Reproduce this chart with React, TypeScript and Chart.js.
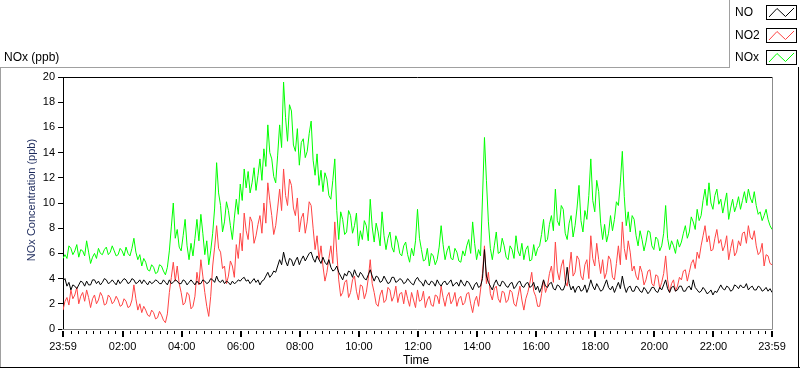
import React, { useEffect, useRef } from "react";
import { Chart, registerables } from "chart.js";

Chart.register(...registerables);

// Sampling interval of the series (minutes from the 23:59 start of the record)
const STEP_MIN = 4;

const NO = [
  3.8, 4.0, 3.4, 3.7, 3.1, 3.5, 3.4, 3.2, 3.5, 3.8, 3.7, 3.4, 3.8, 3.5, 3.5, 3.9, 3.9, 3.6, 3.8, 3.5,
  3.7, 4.0, 3.9, 3.6, 3.7, 3.9, 3.7, 3.5, 3.9, 3.6, 3.8, 4.0, 3.9, 3.6, 3.7, 4.0, 3.9, 3.6, 3.7, 3.9,
  3.6, 3.9, 3.7, 3.5, 3.8, 3.6, 3.7, 3.9, 3.8, 3.6, 3.6, 3.9, 3.7, 3.5, 3.9, 3.6, 3.7, 3.9, 3.8, 3.6,
  3.6, 3.9, 3.8, 3.5, 3.7, 3.9, 3.7, 3.5, 3.8, 3.6, 3.6, 3.9, 3.8, 3.6, 3.7, 4.0, 3.9, 3.7, 4.2, 3.8,
  3.7, 3.9, 3.6, 3.8, 3.7, 3.5, 3.8, 3.6, 3.7, 3.9, 3.8, 4.0,
  4.1, 3.8, 3.9, 3.6, 3.8, 4.0, 3.7, 3.9, 3.5, 3.8, 3.9, 4.2, 4.5, 4.1, 4.3, 4.6, 4.5, 5.0, 5.5, 5.1,
  6.1, 5.4, 5.0, 5.6, 5.5, 5.0, 5.4, 5.7, 5.1, 5.5, 5.8, 5.4, 5.7, 6.0, 6.1, 5.6, 5.3, 5.8, 5.5, 5.2,
  5.7, 5.3, 5.1, 5.5, 4.9, 4.6, 4.7, 5.0, 4.5, 4.2, 3.9, 4.4, 4.2, 4.6, 4.5, 4.1, 4.7, 4.3, 4.1, 4.5,
  4.3, 4.0, 3.9, 4.3, 4.7, 4.2, 3.8, 4.2, 4.1, 3.7, 3.8, 4.2, 3.9, 3.6, 3.7, 4.1, 4.1, 3.7, 3.8, 4.0,
  3.9, 3.6, 3.7, 4.0, 3.8, 3.6, 3.5, 3.9, 4.1, 3.8,
  3.7, 3.4, 3.9, 3.6, 3.5, 3.8, 3.7, 3.4, 3.9, 3.6, 3.4, 3.7, 3.8, 3.5, 3.7, 3.9, 3.4, 3.6, 3.7, 3.4,
  3.9, 3.6, 3.4, 3.8, 3.7, 3.4, 3.1, 3.5, 3.7, 3.3, 3.4, 4.0, 6.3, 4.2, 3.7, 3.4, 3.1, 3.6, 3.9, 3.5,
  3.4, 3.8, 3.7, 3.4, 3.3, 3.6, 3.7, 3.2, 3.4, 3.7, 3.8, 3.4, 3.3, 3.6, 3.7, 3.3, 3.4, 3.7, 3.1, 3.4,
  2.9, 3.3, 3.9, 3.4, 3.3, 3.6, 3.7, 3.2, 3.1, 3.5, 3.4, 3.1, 3.1, 3.5, 4.9, 3.6, 3.1, 3.4, 2.9, 3.3,
  3.4, 3.0, 3.1, 3.5, 2.9, 3.3, 3.9, 3.4, 3.1, 3.6, 3.3, 3.0,
  3.1, 3.5, 3.9, 3.3, 3.1, 3.4, 2.9, 3.3, 3.7, 3.2, 4.2, 3.4, 2.9, 3.3, 3.4, 3.0, 3.0, 3.4, 3.3, 3.0,
  2.9, 3.3, 3.1, 2.8, 3.0, 3.3, 3.3, 3.0, 2.9, 3.3, 3.1, 3.5, 3.9, 3.2, 2.9, 3.3, 3.4, 3.0, 3.1, 3.4,
  3.4, 3.0, 3.0, 3.3, 3.4, 3.1, 3.9, 3.3, 3.1, 2.9, 3.0, 3.3, 3.1, 2.8, 2.9, 3.1, 2.7, 3.0, 2.9, 3.2,
  3.5, 3.2, 3.1, 3.4, 3.3, 3.0, 3.1, 3.5, 3.4, 3.2, 3.5, 3.3, 3.3, 3.6, 3.1, 3.3, 3.4, 3.1, 3.1, 3.4,
  3.3, 3.0, 3.1, 3.3, 3.0, 3.2, 2.9,
];

const NO2 = [
  1.5, 2.2, 2.5, 1.9, 3.1, 2.4, 2.7, 3.3, 2.0, 2.6, 2.9, 2.2, 3.1, 2.5, 1.7, 2.4, 2.7, 2.0, 2.3, 2.9,
  2.6, 1.9, 2.0, 2.7, 2.5, 2.0, 2.2, 2.6, 2.3, 1.8, 1.9, 2.4, 2.2, 1.7, 1.8, 2.3, 3.5, 2.4, 1.5, 2.0,
  1.3, 1.8, 1.5, 1.1, 1.0, 1.5, 1.3, 0.8, 0.9, 1.4, 1.1, 0.7, 0.5, 1.2, 2.9, 4.1, 5.3, 3.8, 5.0, 3.6,
  2.9, 1.9, 2.1, 2.9, 2.7, 1.6, 1.8, 2.6, 4.5, 3.5, 5.5, 4.2, 2.9, 1.8, 1.0, 2.6, 5.0, 6.5, 8.2, 6.4,
  6.1, 4.8, 5.0, 3.6, 4.2, 5.4, 5.0, 4.1, 6.7, 5.6, 7.6, 6.2,
  9.2, 7.8, 7.1, 8.9, 8.5, 6.8, 7.4, 8.3, 9.0, 7.6, 10.0, 8.4, 11.6, 10.2, 9.0, 7.5, 8.2, 9.6, 11.1, 9.4,
  12.7, 10.6, 9.8, 11.9, 11.4, 9.6, 9.0, 10.4, 7.7, 8.8, 9.2, 7.6, 8.5, 10.1, 9.8, 8.0, 6.3, 7.4, 5.5, 6.6,
  5.0, 3.8, 4.5, 5.6, 6.6, 5.2, 8.5, 6.1, 3.9, 2.6, 2.9, 3.7, 3.9, 2.5, 2.9, 3.9, 4.2, 3.0, 2.3, 3.5,
  3.4, 2.4, 2.9, 4.0, 5.5, 3.6, 2.9, 2.0, 1.8, 2.7, 3.1, 2.1, 2.3, 3.3, 3.1, 2.2, 2.6, 3.4, 2.1, 2.8,
  2.9, 2.0, 3.1, 2.4, 1.8, 2.9, 2.3, 1.7, 3.1, 2.2,
  2.3, 3.0, 1.7, 2.3, 2.6, 1.9, 1.8, 2.7, 2.6, 2.0, 3.4, 2.5, 1.8, 2.6, 2.9, 2.0, 2.3, 2.9, 1.8, 2.4,
  2.6, 1.9, 2.1, 2.8, 2.9, 2.0, 1.3, 2.2, 2.6, 1.8, 3.1, 4.4, 6.6, 3.6, 4.5, 2.8, 2.3, 3.2, 3.4, 2.4,
  2.1, 3.0, 2.9, 2.1, 2.3, 3.1, 2.9, 2.0, 1.8, 2.6, 3.4, 2.3, 1.5, 2.4, 2.9, 3.6, 4.5, 3.0, 2.6, 1.8,
  1.8, 2.8, 3.9, 2.9, 3.4, 4.4, 5.0, 3.7, 6.9, 4.6, 3.9, 5.0, 5.5, 3.8, 3.4, 4.7, 6.1, 4.2, 4.5, 5.8,
  5.5, 4.2, 3.9, 5.1, 5.5, 4.0, 7.4, 5.6, 5.0, 6.8, 5.5, 4.4,
  5.5, 4.0, 4.5, 5.8, 5.5, 4.1, 3.9, 5.2, 6.6, 5.1, 8.5, 6.4, 5.5, 7.0, 6.1, 4.6, 5.0, 4.2, 3.9, 5.0,
  4.5, 3.5, 3.9, 4.6, 4.7, 3.6, 3.4, 4.3, 4.2, 3.2, 3.7, 4.4, 5.8, 3.9, 2.9, 3.6, 3.9, 3.0, 3.4, 4.1,
  3.9, 4.6, 4.7, 3.8, 4.5, 5.2, 5.5, 4.8, 6.1, 5.6, 6.6, 7.4, 8.2, 6.9, 7.4, 6.2, 6.3, 7.2, 7.9, 6.8,
  7.1, 6.2, 6.6, 7.4, 5.5, 6.4, 7.1, 5.8, 6.1, 7.0, 6.6, 7.6, 7.7, 6.8, 8.2, 7.3, 7.1, 7.8, 6.6, 5.9,
  6.1, 6.8, 5.0, 5.9, 5.8, 5.2, 5.1,
];

const NOX = [
  5.6, 5.9, 5.6, 6.6, 6.4, 5.9, 6.2, 6.7, 5.7, 6.3, 6.2, 5.8, 7.0, 6.1, 5.2, 5.7, 6.0, 5.6, 6.4, 6.0,
  5.9, 6.3, 6.5, 5.9, 6.1, 6.6, 6.2, 5.8, 5.9, 6.4, 6.2, 5.8, 6.5, 6.0, 5.8, 6.4, 7.2, 6.1, 5.5, 5.9,
  5.0, 5.6, 5.3, 4.7, 4.6, 5.1, 4.9, 4.4, 4.5, 5.1, 5.0, 4.6, 4.3, 4.9, 6.2, 8.1, 10.0, 7.2, 7.9, 6.5,
  6.2, 7.4, 8.7, 6.6, 5.5, 6.8, 5.8, 7.2, 8.7, 7.0, 9.1, 7.6, 5.9, 7.0, 5.1, 6.2, 7.6, 9.6, 13.2, 10.8,
  9.8, 7.7, 8.5, 10.1, 9.4, 8.2, 7.1, 8.8, 10.3, 9.1, 11.5, 10.2,
  12.7, 11.2, 12.5, 10.8, 11.6, 12.8, 11.0, 12.2, 13.5, 11.8, 14.3, 12.9, 16.2, 14.0, 13.5, 12.1, 11.6, 13.8, 16.2, 14.4,
  19.6, 16.8, 14.9, 17.8, 17.3, 14.6, 14.1, 15.9, 13.0, 14.8, 15.1, 13.6, 14.1, 15.5, 16.5, 13.4, 12.2, 13.9, 11.4, 12.6,
  10.9, 12.4, 11.9, 10.6, 10.3, 11.8, 13.5, 9.4, 7.1, 9.3, 8.7, 7.5, 7.7, 9.4, 9.0, 7.6, 8.2, 9.2, 6.6, 7.8,
  7.1, 8.6, 8.2, 7.0, 10.3, 8.1, 6.9, 8.4, 7.7, 6.6, 9.3, 7.4, 6.3, 7.2, 7.7, 6.5, 6.1, 7.4, 6.9, 6.0,
  5.8, 6.6, 6.9, 5.9, 5.3, 6.4, 5.8, 7.0, 9.5, 7.2,
  6.3, 5.4, 5.5, 6.4, 5.0, 6.0, 5.8, 5.1, 5.5, 6.5, 8.2, 6.7, 5.5, 6.2, 6.6, 5.6, 5.5, 6.4, 6.1, 5.4,
  5.3, 6.2, 5.8, 6.6, 7.1, 6.0, 8.5, 6.8, 5.5, 6.3, 5.8, 10.4, 15.2, 11.8, 8.5, 6.4, 5.5, 6.6, 7.7, 6.0,
  6.1, 7.2, 6.6, 5.7, 5.5, 6.6, 6.3, 5.6, 7.4, 6.2, 5.8, 6.8, 5.5, 6.3, 6.6, 5.4, 5.5, 6.7, 5.8, 6.4,
  6.6, 7.5, 8.7, 6.9, 7.1, 8.3, 9.0, 7.8, 11.1, 8.6, 8.2, 9.8, 9.5, 7.6, 7.1, 8.4, 9.0, 7.3, 8.2, 9.6,
  11.4, 8.6, 7.7, 9.4, 8.7, 10.6, 13.5, 10.2, 9.3, 11.8, 10.9, 8.4,
  7.1, 8.3, 6.9, 7.6, 9.0, 7.8, 8.7, 10.1, 9.8, 11.6, 14.1, 10.5, 8.2, 9.3, 7.7, 9.0, 8.7, 7.4, 6.6, 7.8,
  7.1, 6.2, 6.9, 7.8, 7.7, 6.6, 6.3, 7.3, 7.1, 6.2, 6.6, 7.6, 9.8, 7.2, 6.3, 7.0, 6.6, 6.0, 7.1, 6.5,
  6.9, 7.6, 8.2, 7.2, 7.7, 8.9, 8.5, 7.9, 9.5, 8.6, 9.0, 10.2, 11.1, 9.8, 11.6, 10.0, 9.5, 10.6, 11.1, 9.9,
  10.3, 9.2, 10.0, 10.8, 8.7, 9.6, 10.3, 9.3, 9.8, 10.5, 9.5, 10.2, 10.9, 10.0, 11.1, 10.4, 10.0, 10.9, 9.8, 9.1,
  9.3, 8.6, 9.0, 9.5, 8.7, 8.2, 7.9,
];

const SERIES_NAMES = ["NO", "NO2", "NOx"];
const SERIES_COLORS = ["#000000", "#ff4444", "#00ff00"];

const X_TICKS = [0, 121, 241, 361, 481, 601, 721, 841, 961, 1081, 1201, 1321, 1440];
const X_TICK_LABELS = [
  "23:59", "02:00", "04:00", "06:00", "08:00", "10:00", "12:00",
  "14:00", "16:00", "18:00", "20:00", "22:00", "23:59",
];
const X_MAX = 1440;
const X_MINOR_STEP = 15;
const Y_MIN = 0;
const Y_MAX = 20;
const Y_STEP = 2;

const CHART_TITLE = "NOx (ppb)";
const Y_TITLE = "NOx Concentration (ppb)";
const X_TITLE = "Time";

const FONT = '"Liberation Sans", Arial, sans-serif';

const framePlugin = {
  id: "labviewFrame",
  afterDraw(chart: any) {
    const ctx = chart.ctx as CanvasRenderingContext2D;
    const area = chart.chartArea;
    const xs = chart.scales.x;
    ctx.save();

    // plot area border (sunken look)
    ctx.lineWidth = 1;
    ctx.strokeStyle = "#000";
    ctx.beginPath();
    ctx.moveTo(area.left - 1, 77.5);
    ctx.lineTo(area.right + 1, 77.5);
    ctx.stroke();
    ctx.strokeStyle = "#8c8c8c";
    ctx.beginPath();
    ctx.moveTo(area.left - 1, 329.5);
    ctx.lineTo(772.5, 329.5);
    ctx.lineTo(772.5, 77);
    ctx.stroke();

    // x axis tick marks
    ctx.fillStyle = "#000";
    for (let t = 1; t < X_MAX; t += X_MINOR_STEP) {
      const px = Math.round(xs.getPixelForValue(t));
      ctx.fillRect(px, 331, 1, 3);
    }
    for (const t of X_TICKS) {
      const px = Math.round(xs.getPixelForValue(t));
      ctx.fillRect(px - 1, 331, 2, 6);
    }

    // outer frame
    ctx.strokeStyle = "#a0a0a0";
    ctx.beginPath();
    ctx.moveTo(0, 67.5);
    ctx.lineTo(730, 67.5);
    ctx.moveTo(0.5, 67.5);
    ctx.lineTo(0.5, 368);
    ctx.moveTo(729.5, 0);
    ctx.lineTo(729.5, 68);
    ctx.stroke();
    ctx.strokeStyle = "#000";
    ctx.beginPath();
    ctx.moveTo(0, 367.5);
    ctx.lineTo(800, 367.5);
    ctx.moveTo(798.5, 67);
    ctx.lineTo(798.5, 368);
    ctx.stroke();

    // texts
    ctx.fillStyle = "#000";
    ctx.font = `12px ${FONT}`;
    ctx.textAlign = "left";
    ctx.textBaseline = "middle";
    ctx.fillText(CHART_TITLE, 4, 58);
    ctx.fillText(X_TITLE, 403, 361);

    ctx.save();
    ctx.translate(32, 200);
    ctx.rotate(-Math.PI / 2);
    ctx.textAlign = "center";
    ctx.fillStyle = "#1c2a5c";
    ctx.font = `11px ${FONT}`;
    ctx.fillText(Y_TITLE, 0, 0);
    ctx.restore();

    // legend
    const boxTops = [5.5, 28.5, 50.5];
    const textYs = [13, 36, 58];
    SERIES_NAMES.forEach((name, i) => {
      ctx.fillStyle = "#000";
      ctx.font = `12px ${FONT}`;
      ctx.textAlign = "left";
      ctx.textBaseline = "middle";
      ctx.fillText(name, 735, textYs[i]);
      const top = boxTops[i];
      const bottom = top + 14;
      ctx.strokeStyle = "#000";
      ctx.lineWidth = 1;
      ctx.strokeRect(766.5, top, 30, 14);
      ctx.strokeStyle = SERIES_COLORS[i];
      ctx.beginPath();
      ctx.moveTo(769, bottom - 2.5);
      ctx.lineTo(777, top + 3);
      ctx.lineTo(785.5, bottom - 3);
      ctx.lineTo(794, top + 2.5);
      ctx.stroke();
    });

    ctx.restore();
  },
};

export default function App() {
  const ref = useRef<HTMLCanvasElement>(null);

  useEffect(() => {
    document.body.style.margin = "0";
    const toPoints = (arr: number[]) => arr.map((v, i) => ({ x: i * STEP_MIN, y: v }));
    const series = [NO, NO2, NOX];
    const chart = new Chart(ref.current as HTMLCanvasElement, {
      type: "line",
      data: {
        datasets: series.map((arr, i) => ({
          label: SERIES_NAMES[i],
          data: toPoints(arr),
          borderColor: SERIES_COLORS[i],
          backgroundColor: SERIES_COLORS[i],
          borderWidth: 1,
          pointRadius: 0,
          tension: 0,
          fill: false,
          order: i,
        })),
      },
      options: {
        responsive: false,
        animation: false,
        events: [],
        layout: { padding: { left: 0, top: 77, right: 28, bottom: 0 } },
        plugins: {
          legend: { display: false },
          title: { display: false },
          tooltip: { enabled: false },
        },
        scales: {
          x: {
            type: "linear",
            min: 0,
            max: X_MAX,
            afterBuildTicks: (axis: any) => {
              axis.ticks = X_TICKS.map((v) => ({ value: v }));
            },
            afterFit: (axis: any) => {
              axis.height = 40;
            },
            ticks: {
              autoSkip: false,
              maxRotation: 0,
              minRotation: 0,
              padding: 11,
              color: "#000",
              font: { family: FONT, size: 11 },
              callback: (v: any) => {
                const k = X_TICKS.indexOf(Number(v));
                return k >= 0 ? X_TICK_LABELS[k] : "";
              },
            },
            grid: { display: false, drawTicks: false },
            border: { display: false },
          },
          y: {
            min: Y_MIN,
            max: Y_MAX,
            afterFit: (axis: any) => {
              axis.width = 63;
            },
            ticks: {
              stepSize: Y_STEP,
              padding: 3,
              color: "#000",
              font: { family: FONT, size: 11 },
            },
            grid: { drawOnChartArea: false, drawTicks: true, tickLength: 5, color: "#000" },
            border: { display: true, color: "#000" },
          },
        },
      },
      plugins: [framePlugin],
    });
    return () => chart.destroy();
  }, []);

  return (
    <canvas
      ref={ref}
      width={800}
      height={369}
      style={{ display: "block", position: "absolute", left: 0, top: 0 }}
    />
  );
}
